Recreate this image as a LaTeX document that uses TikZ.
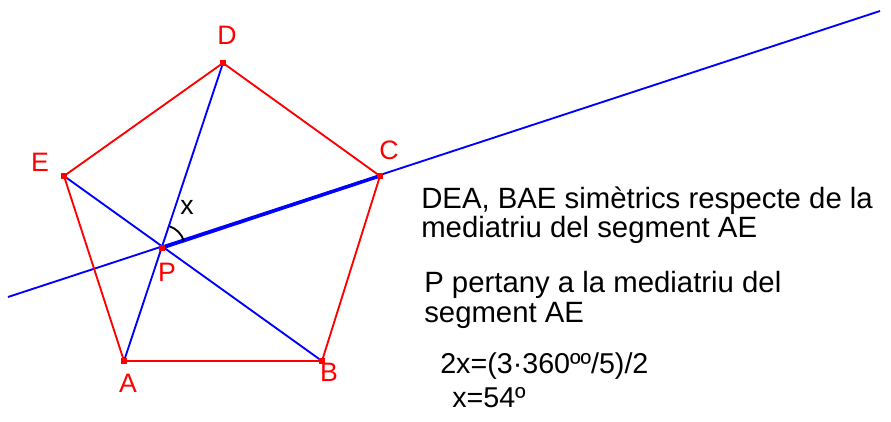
\documentclass[tikz,border=0pt]{standalone}
\usepackage{fontspec}
\setmainfont{Liberation Sans}
\usetikzlibrary{positioning}

\begin{document}
\begin{tikzpicture}[
x=0.75pt, y=-0.75pt,
vert/.style={fill=red, draw=none, rectangle, minimum size=3.8pt, inner sep=0pt},
lbl/.style={red, font=\fontsize{20}{22}\selectfont, inner sep=0pt},
side/.style={red, line width=1.4pt},
diag/.style={blue, line width=1.4pt},
txt/.style={font=\fontsize{22}{24}\selectfont, anchor=base west, inner sep=0pt}
]
\useasboundingbox (0,0) rectangle (891,421);
% pentagon vertices
\node[vert] (A) at (124,361) {};
\node[vert] (B) at (322,361) {};
\node[vert] (C) at (380,176) {};
\node[vert] (D) at (223,63) {};
\node[vert] (E) at (64,176) {};
\coordinate (L1) at (8,297);
\coordinate (L2) at (880,11);
% blue lines
\draw[diag] (A.center) -- (D.center);
\draw[diag] (B.center) -- (E.center);
\draw[diag] (L1) -- (L2);
\node[vert] (P) at (162,248) {};
\draw[blue, line width=2.4pt] (P.center) -- (C.center);
% sides
\draw[side] (A.center) -- (B.center) -- (C.center) -- (D.center) -- (E.center) -- cycle;
\foreach \v in {A,B,C,D,E,P} \node[vert] at (\v) {};
% angle
\draw[line width=1.4pt] ([shift={(18.3:17.25pt)}]P.center) arc[start angle=18.3, end angle=71.7, radius=17.25pt];
% labels
\node[lbl] (lA) at (128,383) {A};
\node[lbl] (lB) at (329,372) {B};
\node[lbl] (lC) at (389,150) {C};
\node[lbl] (lD) at (227,35) {D};
\node[lbl] (lE) at (40,162) {E};
\node[lbl] (lP) at (167,272) {P};
\node[lbl, black] (lx) at (187,207) {x};
% text
\node[txt] (t1) at (421,208) {DEA, BAE simètrics respecte de la};
\node[txt] (t2) at (421,237) {mediatriu del segment AE};
\node[txt] (t3) at (424,292) {P pertany a la mediatriu del};
\node[txt] (t4) at (424,322) {segment AE};
\node[txt, font=\fontsize{21.5}{24}\selectfont] (t5) at (440,373) {2x=(3·360ºº/5)/2};
\node[txt, font=\fontsize{21.5}{24}\selectfont] (t6) at (452,407) {x=54º};
\end{tikzpicture}
\end{document}
